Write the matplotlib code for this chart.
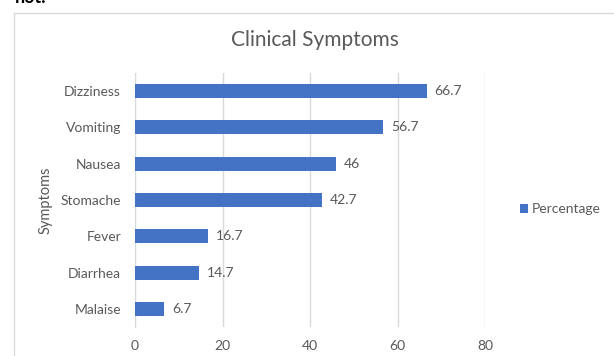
import matplotlib.pyplot as plt
from matplotlib.patches import Rectangle

plt.rcParams['font.family'] = ['Lato', 'DejaVu Sans']

symptoms = ['Malaise', 'Diarrhea', 'Fever', 'Stomache', 'Nausea', 'Vomiting', 'Dizziness']
percentage = [6.7, 14.7, 16.7, 42.7, 46, 56.7, 66.7]
labels = ['6.7', '14.7', '16.7', '42.7', '46', '56.7', '66.7']
x_ticks = [0, 20, 40, 60, 80]

bar_color = '#4472C4'
text_color = '#595959'
grid_color = '#D9D9D9'

fig = plt.figure(figsize=(6.14, 3.56), dpi=100)

# chart frame, runs off the right and bottom edges
fig.patches.append(Rectangle((14 / 614, -0.05), 1.0, 1 - 13 / 356 + 0.05,
                             transform=fig.transFigure, fill=False,
                             edgecolor=grid_color, linewidth=1.0))

# leftover heading text above the chart
fig.text(15 / 614, 1 - 3 / 356, 'not.', fontsize=13, fontweight='bold',
         color='black', va='baseline', ha='left')

ax = fig.add_axes([135 / 614, 1 - 327.2 / 356, 350 / 614, 254.4 / 356])

bars = ax.barh(symptoms, percentage, height=0.39, color=bar_color, label='Percentage', zorder=3)

for b, lab in zip(bars, labels):
    ax.text(b.get_width() + 1.8, b.get_y() + b.get_height() / 2, lab,
            va='center', ha='left', fontsize=10, color=text_color)

ax.set_xlim(0, 80)
ax.set_ylim(-0.5, len(symptoms) - 0.5)
ax.set_xticks(x_ticks)
ax.xaxis.grid(True, color=grid_color, linewidth=1.0, zorder=0)
ax.tick_params(axis='x', length=0, labelsize=10, labelcolor=text_color, pad=9)
ax.tick_params(axis='y', length=0, labelsize=10, labelcolor=text_color, pad=10)

for side in ['top', 'right', 'bottom']:
    ax.spines[side].set_visible(False)
ax.spines['left'].set_color(grid_color)

ax.set_ylabel('Symptoms', fontsize=10.5, color=text_color)
ax.yaxis.set_label_coords(-0.235, 0.5)

fig.text(315 / 614, 1 - 40 / 356, 'Clinical Symptoms', fontsize=15,
         color=text_color, ha='center', va='center')

fig.legend(handles=[bars], labels=['Percentage'], loc='center left',
           bbox_to_anchor=(507 / 614, 1 - 209 / 356), frameon=False,
           fontsize=10, labelcolor=text_color, handlelength=0.6,
           handleheight=0.6, handletextpad=0.3)

plt.savefig('out.png', dpi=100)
